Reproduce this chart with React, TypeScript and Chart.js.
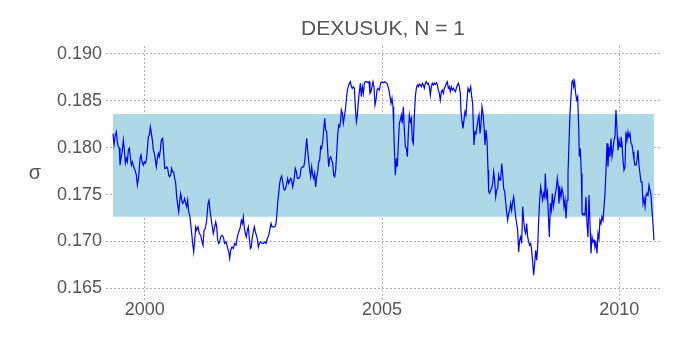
import { useEffect, useRef } from "react";
import { Chart, registerables } from "chart.js";

Chart.register(...registerables);

const TITLE = "DEXUSUK, N = 1";
const Y_LABEL = "σ";
const X_TICKS = [2000, 2005, 2010];
const Y_TICKS = [0.165, 0.17, 0.175, 0.18, 0.185, 0.19];
const X_RANGE = [1999.182, 2010.858];
const Y_RANGE = [0.16375, 0.19085];
const BAND = [0.17264, 0.1836];

const yearsA = [1999.330,1999.351,1999.379,1999.400,1999.421,1999.442,1999.463,1999.477,1999.498,1999.519,1999.548,1999.569,1999.590,1999.611,1999.632,1999.653,1999.674,1999.695,1999.716,1999.737,1999.765,1999.793,1999.822,1999.843,1999.871,1999.899,1999.920,1999.941,1999.969,1999.990,2000.011,2000.032,2000.053,2000.074,2000.096,2000.117,2000.138,2000.159,2000.180,2000.201,2000.222,2000.243,2000.264,2000.285,2000.306,2000.327,2000.348,2000.377,2000.398,2000.419,2000.440,2000.461,2000.482,2000.503,2000.524,2000.545,2000.566,2000.587,2000.608,2000.629,2000.651,2000.672,2000.693,2000.714,2000.735,2000.756,2000.777,2000.798,2000.819,2000.840,2000.861,2000.882,2000.903,2000.924,2000.946,2000.967,2000.988,2001.009,2001.030,2001.051,2001.072,2001.093,2001.121,2001.149];
const sigmaA = [0.18150,0.18030,0.18135,0.18170,0.18063,0.18010,0.17996,0.17814,0.17889,0.17942,0.18081,0.17974,0.17835,0.17889,0.17849,0.17974,0.17996,0.17903,0.17814,0.17849,0.17796,0.17761,0.17707,0.17600,0.17689,0.17886,0.17921,0.17849,0.17814,0.17849,0.17835,0.17867,0.17974,0.18116,0.18135,0.18223,0.18153,0.18081,0.17974,0.17939,0.17867,0.17796,0.17886,0.17939,0.17903,0.17974,0.18081,0.18099,0.17939,0.17779,0.17779,0.17796,0.17779,0.17707,0.17689,0.17707,0.17779,0.17742,0.17742,0.17672,0.17619,0.17475,0.17387,0.17315,0.17422,0.17512,0.17440,0.17405,0.17422,0.17458,0.17405,0.17369,0.17440,0.17315,0.17280,0.17191,0.17084,0.16978,0.16888,0.17013,0.17155,0.17120,0.17155,0.17084];

const yearsB = [2001.177,2001.206,2001.227,2001.248,2001.276,2001.304,2001.332,2001.353,2001.374,2001.402,2001.423,2001.444,2001.472,2001.494,2001.515,2001.536,2001.557,2001.578,2001.599,2001.627,2001.655,2001.683,2001.711,2001.739,2001.768,2001.789,2001.810,2001.838,2001.866,2001.894,2001.922,2001.950,2001.978,2002.006,2002.034,2002.056,2002.077,2002.098,2002.119,2002.140,2002.161,2002.182,2002.203,2002.224,2002.245,2002.266,2002.287,2002.308,2002.330,2002.351,2002.372,2002.393,2002.414,2002.442,2002.470,2002.498,2002.526,2002.554,2002.582,2002.611,2002.639,2002.660,2002.681,2002.709,2002.737,2002.758,2002.779,2002.800,2002.821,2002.842,2002.863,2002.885,2002.906,2002.927,2002.948,2002.969,2002.990,2003.011,2003.032];
const sigmaB = [0.17066,0.16995,0.16959,0.17120,0.17138,0.17226,0.17405,0.17440,0.17333,0.17226,0.17155,0.17084,0.17155,0.17208,0.17155,0.17013,0.16978,0.16995,0.17048,0.17066,0.17048,0.16978,0.16995,0.16941,0.16888,0.16817,0.16906,0.16941,0.16924,0.16978,0.16959,0.17048,0.17101,0.17138,0.17226,0.17191,0.17262,0.17138,0.17084,0.17048,0.17120,0.17155,0.17031,0.16924,0.16941,0.17048,0.17101,0.17155,0.17101,0.17066,0.17031,0.16941,0.16978,0.16995,0.16978,0.16978,0.16995,0.16978,0.17031,0.17066,0.17138,0.17191,0.17155,0.17155,0.17155,0.17173,0.17262,0.17405,0.17512,0.17619,0.17672,0.17697,0.17636,0.17565,0.17547,0.17565,0.17619,0.17672,0.17619];

const yearsC = [2003.046,2003.074,2003.095,2003.116,2003.144,2003.172,2003.194,2003.215,2003.243,2003.271,2003.292,2003.320,2003.348,2003.369,2003.390,2003.411,2003.432,2003.453,2003.475,2003.496,2003.517,2003.538,2003.559,2003.580,2003.601,2003.622,2003.643,2003.664,2003.685,2003.706,2003.727,2003.749,2003.770,2003.791,2003.812,2003.833,2003.854,2003.875,2003.896,2003.917,2003.938,2003.959,2003.980,2004.001,2004.023,2004.044,2004.065,2004.086,2004.107,2004.128,2004.142,2004.163,2004.184,2004.205,2004.226,2004.247,2004.268,2004.289,2004.311,2004.332,2004.353,2004.374,2004.395,2004.416,2004.437,2004.458,2004.479,2004.500,2004.521,2004.542,2004.563,2004.585,2004.606,2004.627,2004.648,2004.676,2004.704,2004.725,2004.746,2004.767,2004.788,2004.809,2004.830,2004.851,2004.873,2004.894,2004.915,2004.943];
const sigmaC = [0.17636,0.17672,0.17654,0.17582,0.17654,0.17779,0.17742,0.17672,0.17672,0.17689,0.17779,0.17796,0.17796,0.17849,0.17974,0.18099,0.17974,0.17867,0.17761,0.17689,0.17796,0.17707,0.17672,0.17725,0.17582,0.17689,0.17742,0.17849,0.17867,0.18010,0.17992,0.18063,0.18188,0.18313,0.18188,0.18170,0.17974,0.17796,0.17886,0.17903,0.17867,0.17832,0.17707,0.17689,0.17761,0.17939,0.18135,0.18241,0.18223,0.18295,0.18402,0.18366,0.18260,0.18330,0.18402,0.18509,0.18615,0.18651,0.18687,0.18704,0.18651,0.18634,0.18651,0.18634,0.18437,0.18277,0.18348,0.18490,0.18597,0.18687,0.18544,0.18651,0.18580,0.18687,0.18704,0.18704,0.18693,0.18704,0.18580,0.18597,0.18651,0.18704,0.18651,0.18455,0.18509,0.18615,0.18634,0.18615];

const yearsD = [2004.971,2004.999,2005.027,2005.055,2005.083,2005.104,2005.125,2005.146,2005.168,2005.189,2005.210,2005.231,2005.245,2005.266,2005.280,2005.301,2005.322,2005.343,2005.364,2005.385,2005.406,2005.427,2005.449,2005.470,2005.491,2005.512,2005.533,2005.554,2005.575,2005.596,2005.617,2005.638,2005.659,2005.680,2005.701,2005.723,2005.744,2005.765,2005.786,2005.807,2005.828,2005.849,2005.870,2005.891,2005.912,2005.933,2005.954,2005.975,2005.996,2006.018,2006.039,2006.060,2006.081,2006.102,2006.123,2006.144,2006.165,2006.186,2006.207,2006.228,2006.249,2006.270,2006.292,2006.313,2006.334,2006.355,2006.376,2006.397,2006.418,2006.439,2006.460,2006.481,2006.502,2006.523,2006.544,2006.566,2006.587,2006.608,2006.629,2006.650,2006.664,2006.685,2006.706,2006.727,2006.748,2006.769,2006.790,2006.811];
const sigmaD = [0.18693,0.18704,0.18693,0.18704,0.18693,0.18687,0.18651,0.18615,0.18544,0.18473,0.18527,0.18437,0.18223,0.17903,0.17707,0.17886,0.17796,0.18028,0.18260,0.18295,0.18348,0.18260,0.18437,0.18188,0.18010,0.17992,0.17903,0.18153,0.18348,0.18277,0.18313,0.18081,0.18046,0.18330,0.18544,0.18634,0.18669,0.18651,0.18679,0.18669,0.18651,0.18687,0.18669,0.18634,0.18687,0.18704,0.18679,0.18687,0.18651,0.18562,0.18651,0.18687,0.18669,0.18687,0.18676,0.18693,0.18669,0.18615,0.18580,0.18509,0.18597,0.18615,0.18580,0.18634,0.18651,0.18687,0.18704,0.18634,0.18651,0.18597,0.18651,0.18615,0.18634,0.18615,0.18597,0.18634,0.18669,0.18687,0.18651,0.18580,0.18384,0.18277,0.18206,0.18295,0.18384,0.18348,0.18509,0.18634];

const yearsE = [2006.840,2006.868,2006.889,2006.910,2006.924,2006.938,2006.959,2006.980,2007.001,2007.022,2007.043,2007.064,2007.085,2007.106,2007.128,2007.149,2007.170,2007.191,2007.212,2007.233,2007.247,2007.268,2007.289,2007.310,2007.331,2007.352,2007.373,2007.395,2007.416,2007.437,2007.458,2007.479,2007.500,2007.521,2007.542,2007.563,2007.584,2007.605,2007.626,2007.647,2007.668,2007.690,2007.711,2007.732,2007.753,2007.774,2007.795,2007.816,2007.837,2007.858,2007.879,2007.900,2007.921,2007.942,2007.964,2007.985,2008.006,2008.027,2008.048,2008.069,2008.090,2008.111,2008.132,2008.153,2008.174,2008.195,2008.216,2008.238,2008.259,2008.280,2008.301,2008.322,2008.343,2008.364,2008.385,2008.406,2008.427,2008.441,2008.462,2008.483,2008.504,2008.526,2008.547,2008.568,2008.589,2008.610,2008.631,2008.652,2008.673,2008.694,2008.715];
const sigmaE = [0.18597,0.18651,0.18544,0.18473,0.18223,0.18028,0.18170,0.18153,0.18223,0.18295,0.18348,0.18153,0.18241,0.18437,0.18366,0.18223,0.18028,0.18188,0.18081,0.17761,0.17529,0.17512,0.17547,0.17565,0.17619,0.17742,0.17654,0.17475,0.17547,0.17565,0.17707,0.17654,0.17654,0.17832,0.17725,0.17565,0.17529,0.17422,0.17315,0.17226,0.17298,0.17333,0.17405,0.17333,0.17422,0.17475,0.17369,0.17262,0.17191,0.17120,0.16888,0.17013,0.17048,0.16978,0.17369,0.17226,0.17120,0.17084,0.17191,0.17048,0.16995,0.16959,0.16978,0.16906,0.16781,0.16639,0.16764,0.16906,0.16799,0.16941,0.17226,0.17440,0.17582,0.17512,0.17440,0.17512,0.17475,0.17725,0.17475,0.17529,0.17298,0.17048,0.17405,0.17333,0.17512,0.17369,0.17440,0.17512,0.17565,0.17672,0.17582];

const yearsF = [2008.729,2008.750,2008.771,2008.792,2008.814,2008.835,2008.856,2008.877,2008.898,2008.919,2008.940,2008.961,2008.982,2009.003,2009.024,2009.038,2009.059,2009.080,2009.102,2009.123,2009.144,2009.158,2009.179,2009.200,2009.214,2009.235,2009.256,2009.277,2009.298,2009.319,2009.340,2009.361,2009.383,2009.404,2009.425,2009.446,2009.467,2009.488,2009.509,2009.530,2009.551,2009.572,2009.593,2009.614,2009.635,2009.657,2009.678,2009.699,2009.720,2009.741,2009.762,2009.783,2009.804,2009.825,2009.846,2009.867,2009.888,2009.909,2009.930,2009.952,2009.973,2009.994,2010.015,2010.036,2010.057,2010.078,2010.099,2010.120,2010.141,2010.162,2010.183,2010.204,2010.226,2010.247,2010.268,2010.289,2010.310,2010.331,2010.352,2010.373,2010.394,2010.415,2010.436,2010.457,2010.478,2010.500,2010.521,2010.542,2010.563,2010.584,2010.605,2010.626,2010.647,2010.668,2010.689,2010.710,2010.731];
const sigmaF = [0.17405,0.17547,0.17475,0.17565,0.17512,0.17369,0.17440,0.17245,0.17440,0.17725,0.18046,0.18366,0.18544,0.18704,0.18722,0.18651,0.18704,0.18580,0.18509,0.18544,0.18223,0.17903,0.17992,0.17725,0.17298,0.17280,0.17298,0.17280,0.17475,0.17191,0.17048,0.17494,0.17191,0.16871,0.17048,0.16995,0.17013,0.16941,0.16978,0.16871,0.17084,0.17031,0.17226,0.17191,0.17262,0.17226,0.17369,0.17512,0.17761,0.18046,0.17796,0.18010,0.17903,0.18099,0.17903,0.17974,0.18081,0.18116,0.18402,0.18188,0.17974,0.18081,0.18010,0.18116,0.18046,0.17867,0.17761,0.17796,0.18170,0.18081,0.18170,0.18116,0.18153,0.18046,0.18028,0.17956,0.17867,0.17814,0.17814,0.17867,0.17974,0.17814,0.17725,0.17636,0.17636,0.17405,0.17458,0.17369,0.17494,0.17512,0.17494,0.17600,0.17547,0.17494,0.17333,0.17191,0.17013];

const years = [...yearsA, ...yearsB, ...yearsC, ...yearsD, ...yearsE, ...yearsF];
const sigma = [...sigmaA, ...sigmaB, ...sigmaC, ...sigmaD, ...sigmaE, ...sigmaF];

const TEXT_COLOR = "#555555";
const GRID_COLOR = "#b0b0b0";
const FONT_FAMILY = '"Liberation Sans", Arial, Helvetica, sans-serif';

export default function App() {
  const canvasRef = useRef<HTMLCanvasElement | null>(null);

  useEffect(() => {
    const canvas = canvasRef.current;
    if (!canvas) return;
    const n = Math.min(years.length, sigma.length);
    const points = [];
    for (let i = 0; i < n; i++) points.push({ x: years[i], y: sigma[i] });
    const x0 = years[0];
    const x1 = years[n - 1];

    const textPlugin = {
      id: "extraTexts",
      afterDraw(chart: any) {
        const { ctx, chartArea } = chart;
        ctx.save();
        ctx.fillStyle = TEXT_COLOR;
        ctx.textAlign = "center";
        ctx.textBaseline = "middle";
        ctx.font = `21px ${FONT_FAMILY}`;
        ctx.fillText(TITLE, (chartArea.left + chartArea.right) / 2, 29);
        ctx.font = `20px ${FONT_FAMILY}`;
        ctx.fillText(Y_LABEL, 35, (chartArea.top + chartArea.bottom) / 2);
        ctx.restore();
      },
    };

    const chart = new Chart(canvas, {
      type: "line",
      data: {
        datasets: [
          {
            data: points,
            borderColor: "#0000ff",
            borderWidth: 1.2,
            pointRadius: 0,
            tension: 0,
            fill: false,
            order: 0,
          },
          {
            data: [
              { x: x0, y: BAND[1] },
              { x: x1, y: BAND[1] },
            ],
            borderWidth: 0,
            borderColor: "rgba(0,0,0,0)",
            backgroundColor: "#add8e6",
            pointRadius: 0,
            fill: { value: BAND[0] },
            order: 1,
          },
        ],
      },
      options: {
        animation: false,
        responsive: false,
        layout: { padding: { top: 46, right: 20, left: 0, bottom: 0 } },
        plugins: {
          legend: { display: false },
          tooltip: { enabled: false },
          title: { display: false },
        },
        scales: {
          x: {
            type: "linear",
            min: X_RANGE[0],
            max: X_RANGE[1],
            afterBuildTicks: (s: any) => {
              s.ticks = X_TICKS.map((v) => ({ value: v }));
            },
            afterFit: (s: any) => {
              s.height = 40;
            },
            ticks: {
              font: { size: 18, family: FONT_FAMILY },
              color: TEXT_COLOR,
              padding: -1,
              maxRotation: 0,
              autoSkip: false,
              callback: (v: any) => String(v),
            },
            grid: { color: GRID_COLOR, lineWidth: 1, drawTicks: false },
            border: { display: false, dash: [2, 2] },
          },
          y: {
            type: "linear",
            min: Y_RANGE[0],
            max: Y_RANGE[1],
            afterBuildTicks: (s: any) => {
              s.ticks = Y_TICKS.map((v) => ({ value: v }));
            },
            afterFit: (s: any) => {
              s.width = 106;
            },
            ticks: {
              font: { size: 18, family: FONT_FAMILY },
              color: TEXT_COLOR,
              padding: 4,
              autoSkip: false,
              callback: (v: any) => Number(v).toFixed(3),
            },
            grid: { color: GRID_COLOR, lineWidth: 1, drawTicks: false },
            border: { display: false, dash: [2, 2] },
          },
        },
      },
      plugins: [textPlugin],
    });

    return () => chart.destroy();
  }, []);

  return (
    <div style={{ position: "absolute", left: 0, top: 0, width: 680, height: 340, background: "#ffffff" }}>
      <canvas ref={canvasRef} width={680} height={340} />
    </div>
  );
}
